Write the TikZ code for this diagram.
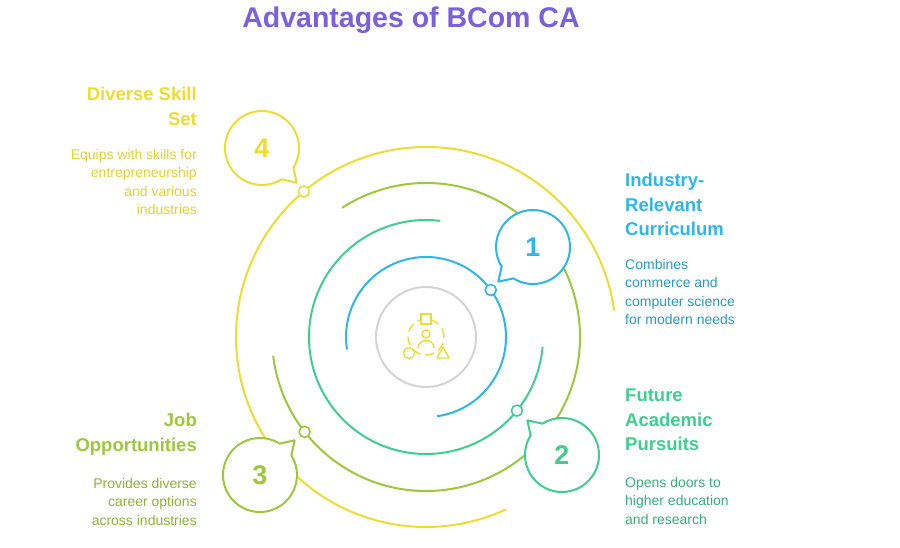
\documentclass[tikz,border=0pt]{standalone}
\usepackage{fontspec}
\setmainfont{Liberation Sans}
\usetikzlibrary{calc}
\definecolor{cblue}{HTML}{2DB6E8}
\definecolor{cteal}{HTML}{3ECF8E}
\definecolor{colive}{HTML}{9BC93A}
\definecolor{cyel}{HTML}{EEDD30}
\definecolor{cpurp}{HTML}{7B5FDC}
\definecolor{cgrey}{HTML}{D4D4D4}
\tikzset{
  ring/.style={line width=2pt},
  dot/.style={circle,draw,fill=white,line width=1.6pt,minimum size=11pt,inner sep=0pt},
  head/.style={font=\bfseries\fontsize{18.5}{24.5}\selectfont},
  desc/.style={font=\fontsize{14}{18.5}\selectfont},
  num/.style={font=\bfseries\fontsize{27}{27}\selectfont,inner sep=0pt}
}
\newcommand{\mybubble}[5]{%
  \node[num,text=#4] (#1) at (#2) {#5};
  \draw[#4,line width=2pt,fill=white,line join=round]
    ($(#1)+(#3+13:37)$) arc[start angle=#3+13,end angle=#3+347,radius=37]
    -- ($(#1)+(#3:49)$) -- cycle;
  \node[num,text=#4] at (#1) {#5};
}
\begin{document}
\begin{tikzpicture}[x=1pt,y=1pt]
\useasboundingbox (0,0) rectangle (900,-548);
\coordinate (c) at (426,-337);
\node[font=\bfseries\fontsize{28.5}{28.5}\selectfont,text=cpurp] (title) at (411,-20) {Advantages of BCom CA};
% rings
\draw[cgrey,ring] (c) circle[radius=50];
\draw[cblue,ring] (c) ++(-82:80) arc[start angle=-82,end angle=189,radius=80];
\draw[cteal,ring] (c) ++(83:117) arc[start angle=83,end angle=355,radius=117];
\draw[colive,ring] (c) ++(-173:154) arc[start angle=-173,end angle=123,radius=154];
\draw[cyel,ring] (c) ++(8:190) arc[start angle=8,end angle=295,radius=190];
% dots
\node[dot,draw=cblue] (d1) at ($(c)+(36:80)$) {};
\node[dot,draw=cteal] (d2) at ($(c)+(-39:117)$) {};
\node[dot,draw=colive] (d3) at ($(c)+(218:154)$) {};
\node[dot,draw=cyel] (d4) at ($(c)+(130:190)$) {};
% icon
\begin{scope}[cyel,line width=1.4pt]
\draw[dash pattern=on 9pt off 5pt] (c) circle[radius=18];
\draw[fill=white] (421,-314) rectangle (431,-324);
\draw[fill=white] (426,-334) circle[radius=4];
\draw (418,-348) .. controls (418,-338) and (434,-338) .. (434,-348);
\draw[fill=white] (409,-353) circle[radius=5.5];
\draw[fill=white,line join=round] (437,-358) -- (449,-358) -- (443,-347) -- cycle;
\end{scope}
% bubbles
\mybubble{b1}{533,-247}{225}{cblue}{1}
\mybubble{b2}{562,-455}{135}{cteal}{2}
\mybubble{b3}{260,-475}{45}{colive}{3}
\mybubble{b4}{262,-148}{-45}{cyel}{4}
% texts
\node[head,text=cblue,anchor=north west,align=left,inner sep=0pt] (h1) at (625,-173) {Industry-\\Relevant\\Curriculum};
\node[desc,text=cblue!85!black,anchor=north west,align=left,inner sep=0pt] (t1) at (625,-259) {Combines\\commerce and\\computer science\\for modern needs};
\node[head,text=cteal,anchor=north west,align=left,inner sep=0pt] (h2) at (625,-389) {Future\\Academic\\Pursuits};
\node[desc,text=cteal!85!black,anchor=north west,align=left,inner sep=0pt] (t2) at (625,-477) {Opens doors to\\higher education\\and research};
\node[head,text=colive,anchor=north east,align=right,inner sep=0pt] (h3) at (197,-413) {Job\\Opportunities};
\node[desc,text=colive!90!black,anchor=north east,align=right,inner sep=0pt] (t3) at (197,-478) {Provides diverse\\career options\\across industries};
\node[head,text=cyel,anchor=north east,align=right,inner sep=0pt] (h4) at (197,-87) {Diverse Skill\\Set};
\node[desc,text=cyel!95!black,anchor=north east,align=right,inner sep=0pt] (t4) at (197,-149) {Equips with skills for\\entrepreneurship\\and various\\industries};
\end{tikzpicture}
\end{document}
